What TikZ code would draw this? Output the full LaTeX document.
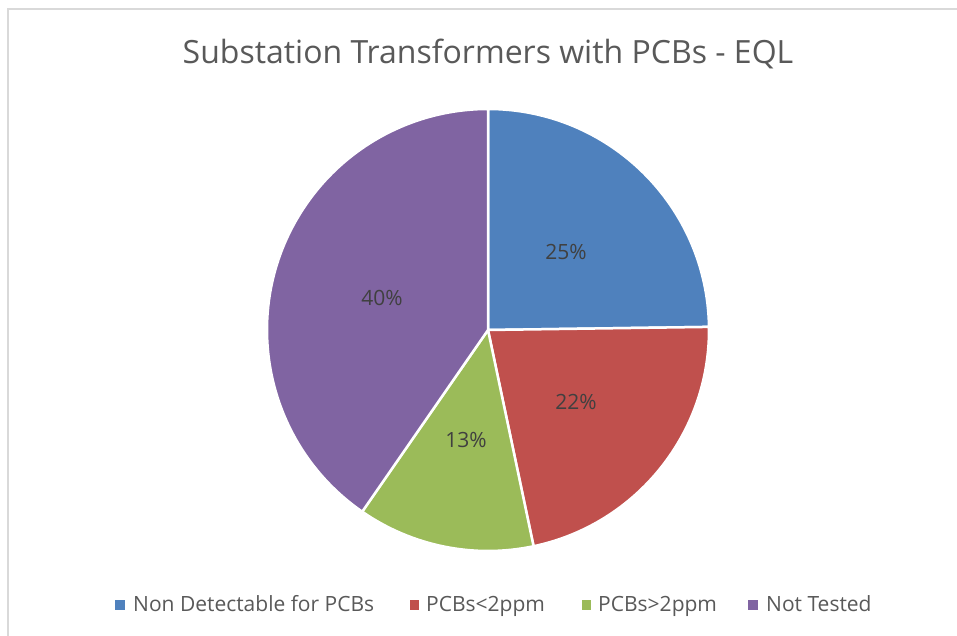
\documentclass[tikz,border=0pt]{standalone}
\usepackage{fontspec}
\setmainfont{Open Sans}
\definecolor{sblue}{HTML}{4F81BD}
\definecolor{sred}{HTML}{C0504D}
\definecolor{sgreen}{HTML}{9BBB59}
\definecolor{spurple}{HTML}{8064A2}
\definecolor{titlegray}{HTML}{595959}
\definecolor{labelgray}{HTML}{404040}
\definecolor{framegray}{HTML}{D9D9D9}
\begin{document}
\begin{tikzpicture}[x=1pt,y=1pt,
  slice/.style={draw=white,line width=2.5pt,line join=round},
  pct/.style={text=labelgray,font=\fontsize{21}{25}\selectfont,inner sep=0pt},
  legtext/.style={text=titlegray,font=\fontsize{21}{25}\selectfont,anchor=base west,inner sep=0pt},
  legbox/.style={minimum size=9.5pt,inner sep=0pt,outer sep=0pt,draw=none}]
\useasboundingbox (0,0) rectangle (957,636);
\fill[white] (0,0) rectangle (957,636);
% frame (top and left edges visible)
\draw[framegray,line width=2pt] (8,0) -- (8,627) -- (957,627);
% title
\node[anchor=base,text=titlegray,font=\fontsize{32}{38}\selectfont,inner sep=0pt] (title) at (488,572) {Substation Transformers with PCBs - EQL};
% pie
\coordinate (c) at (488,306);
\def\R{221}
\fill[sblue,slice] (c) -- ++(90:\R) arc[start angle=90,end angle=0.8,radius=\R] -- cycle;
\fill[sred,slice] (c) -- ++(0.8:\R) arc[start angle=0.8,end angle=-78.1,radius=\R] -- cycle;
\fill[sgreen,slice] (c) -- ++(-78.1:\R) arc[start angle=-78.1,end angle=-124.7,radius=\R] -- cycle;
\fill[spurple,slice] (c) -- ++(-124.7:\R) arc[start angle=-124.7,end angle=-270,radius=\R] -- cycle;
% percentage labels
\node[pct] (p25) at (566,384) {25\%};
\node[pct] (p22) at (576,234) {22\%};
\node[pct] (p13) at (466,196) {13\%};
\node[pct] (p40) at (382,338) {40\%};
% legend
\node[legbox,fill=sblue] (lb1) at (120,31) {};
\node[legtext] (lt1) at (133,24) {Non Detectable for PCBs};
\node[legbox,fill=sred] (lb2) at (414.5,31) {};
\node[legtext] (lt2) at (426,24) {PCBs<2ppm};
\node[legbox,fill=sgreen] (lb3) at (586.5,31) {};
\node[legtext] (lt3) at (598,24) {PCBs>2ppm};
\node[legbox,fill=spurple] (lb4) at (753,31) {};
\node[legtext] (lt4) at (766,24) {Not Tested};
\end{tikzpicture}
\end{document}
